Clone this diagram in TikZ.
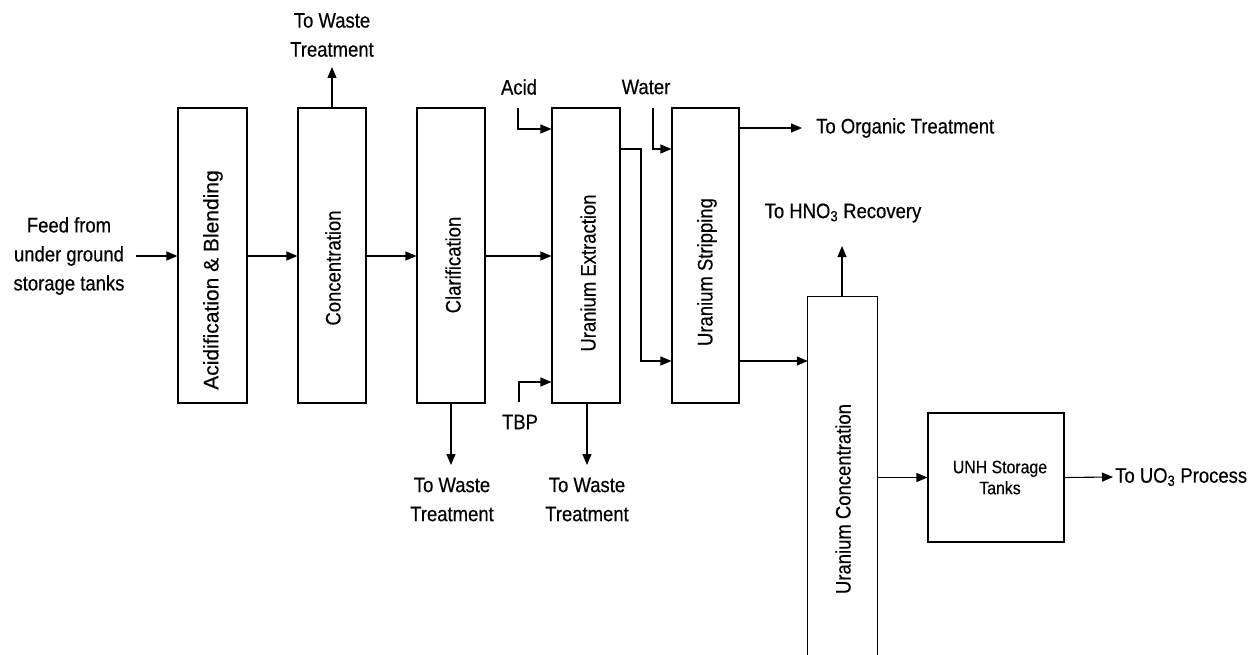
\documentclass[tikz,border=0pt]{standalone}
\usepackage{fontspec}
\setmainfont[FakeStretch=0.88,FakeBold=0.4]{Liberation Sans}
\newfontfamily\widefont[FakeStretch=1.0,FakeBold=0.4]{Liberation Sans}
\usetikzlibrary{arrows.meta}
\tikzset{
  box/.style={draw, line width=1.1pt, inner sep=0pt},
  ubox/.style={inner sep=0pt},
  lbl/.style={font=\fontsize{21pt}{29pt}\selectfont, inner sep=1pt, align=center},
  vlbl/.style={font=\fontsize{21pt}{29pt}\selectfont, inner sep=1pt, rotate=90},
  flow/.style={line width=1.1pt, -{Triangle[length=11pt,width=9pt]}},
}
\begin{document}
\begin{tikzpicture}[x=1pt,y=-1pt]
\useasboundingbox (0,0) rectangle (1260,655);
% boxes
\node[box, minimum width=69pt, minimum height=295pt] (b1) at (212.5,255.5) {};
\node[box, minimum width=68pt, minimum height=295pt] (b2) at (332,255.5) {};
\node[box, minimum width=68pt, minimum height=295pt] (b3) at (451,255.5) {};
\node[box, minimum width=68pt, minimum height=295pt] (b4) at (586,255.5) {};
\node[box, minimum width=67pt, minimum height=295pt] (b5) at (705.5,255.5) {};
\node[ubox, minimum width=69pt, minimum height=358pt] (uc) at (842.5,476) {};
\draw[line width=1.1pt] (uc.south west) -- (uc.north west) -- (uc.north east) -- (uc.south east);
\node[box, minimum width=136pt, minimum height=129pt] (unh) at (996,477.5) {};
\node[font=\fontsize{18pt}{21pt}\selectfont, align=center, inner sep=0pt] (unht) at (1000,477.5) {UNH Storage\\Tanks};
% vertical labels
\node[vlbl, font=\widefont\fontsize{21pt}{29pt}\selectfont] (t1) at (213,280) {Acidification \& Blending};
\node[vlbl] (t2) at (333,268) {Concentration};
\node[vlbl] (t3) at (453,265) {Clarification};
\node[vlbl] (t4) at (588,273) {Uranium Extraction};
\node[vlbl] (t5) at (707,272) {Uranium Stripping};
\node[vlbl] (t6) at (843,499) {Uranium Concentration};
% text labels
\node[lbl] (feed) at (69,256) {Feed from\\under ground\\storage tanks};
\node[lbl] (w1) at (332,35) {To Waste\\Treatment};
\node[lbl] (w2) at (452,499.5) {To Waste\\Treatment};
\node[lbl] (w3) at (587,499.5) {To Waste\\Treatment};
\node[lbl] (acid) at (519,87) {Acid};
\node[lbl] (water) at (646,87) {Water};
\node[lbl] (tbp) at (520,422) {TBP};
\node[lbl, anchor=west] (org) at (815,128) {To Organic Treatment};
\node[lbl] (hno) at (843,213) {To HNO\textsubscript{3} Recovery};
\node[lbl, anchor=west] (uo) at (1114,477) {To UO\textsubscript{3} Process};
% free ends
\coordinate (feedend) at (136,256);
\coordinate (w1a) at (332,67);
\coordinate (w2a) at (451,465);
\coordinate (w3a) at (587,465);
\coordinate (acid0) at (518,108);
\coordinate (tbp0) at (519,402);
\coordinate (water0) at (653,108);
\coordinate (orga) at (802,128);
\coordinate (hnoa) at (842,246);
\coordinate (uoa) at (1113,477);
\coordinate (bend1) at (641,149);
\coordinate (bend2) at (641,361);
% connectors
\draw[flow] (feedend) -- (b1.west |- feedend);
\draw[flow] (b1.east |- feedend) -- (b2.west |- feedend);
\draw[flow] (b2.east |- feedend) -- (b3.west |- feedend);
\draw[flow] (b3.east |- feedend) -- (b4.west |- feedend);
\draw[flow] (b2.north) -- (w1a);
\draw[flow] (b3.south) -- (w2a);
\draw[flow] (w3a |- b4.south) -- (w3a);
\draw[flow] (acid0) |- (b4.west |- 0,129);
\draw[flow] (tbp0) |- (b4.west |- 0,382);
\draw[flow] (water0) |- (b5.west |- 0,149);
\draw[flow] (b4.east |- bend1) -- (bend1) -- (bend2) -- (b5.west |- bend2);
\draw[flow] (b5.east |- orga) -- (orga);
\draw[flow] (b5.east |- bend2) -- (uc.west |- bend2);
\draw[flow] (hnoa |- uc.north) -- (hnoa);
\draw[flow] (uc.east |- unh.west) -- (unh.west);
\draw[flow] (unh.east) -- (uoa);
\end{tikzpicture}
\end{document}
